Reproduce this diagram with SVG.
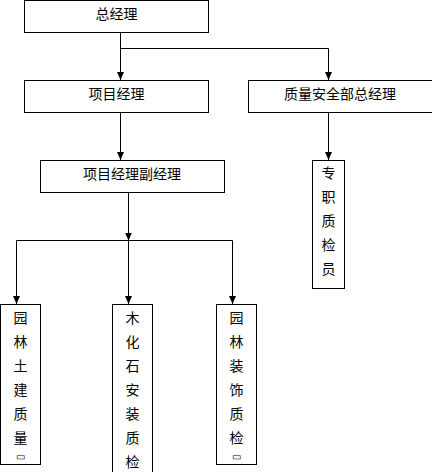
<svg xmlns="http://www.w3.org/2000/svg" width="432" height="472" viewBox="0 0 432 472">
<style>
.box{fill:#fff;stroke:#000;stroke-width:1}
.t{font-family:"Noto Sans CJK SC","Liberation Sans",sans-serif;font-size:14px;fill:#000;text-anchor:middle}
.s{font-size:10px}
.c{fill:none;stroke:#000;stroke-width:1}
</style>
<defs>
<marker id="ah" viewBox="0 -4 8 8" refX="8" refY="0" markerWidth="8" markerHeight="8" markerUnits="userSpaceOnUse" orient="auto">
<path d="M0,-3.5 L8,0 L0,3.5 Z" fill="#000"/>
</marker>
</defs>
<rect width="432" height="472" fill="#fff"/>
<g id="connectors">
<path class="c" d="M120.5,32 V80" marker-end="url(#ah)"/>
<path class="c" d="M120.5,48.5 H328.5 V80" marker-end="url(#ah)"/>
<path class="c" d="M120.5,112 V160" marker-end="url(#ah)"/>
<path class="c" d="M328.5,112 V160" marker-end="url(#ah)"/>
<path class="c" d="M128.5,192 V240.5" marker-end="url(#ah)"/>
<path class="c" d="M16.5,240.5 H232.5"/>
<path class="c" d="M16.5,240.5 V304" marker-end="url(#ah)"/>
<path class="c" d="M128.5,240.5 V304" marker-end="url(#ah)"/>
<path class="c" d="M232.5,240.5 V304" marker-end="url(#ah)"/>
</g>
<g id="n1"><rect class="box" x="24.5" y="0.5" width="184" height="32"/><text class="t" x="116.5" y="19">总经理</text></g>
<g id="n2"><rect class="box" x="24.5" y="80.5" width="184" height="32"/><text class="t" x="116.5" y="99">项目经理</text></g>
<g id="n3"><rect class="box" x="248.5" y="80.5" width="184" height="32"/><text class="t" x="340" y="99">质量安全部总经理</text></g>
<g id="n4"><rect class="box" x="40.5" y="160.5" width="184" height="32"/><text class="t" x="132" y="179">项目经理副经理</text></g>
<g id="n5"><rect class="box" x="312.5" y="160.5" width="32" height="128"/>
<text class="t" x="328.5" y="178">专</text><text class="t" x="328.5" y="202">职</text><text class="t" x="328.5" y="226">质</text><text class="t" x="328.5" y="250">检</text><text class="t" x="328.5" y="274">员</text></g>
<g id="n6"><rect class="box" x="0.5" y="304.5" width="40" height="160"/>
<text class="t" x="20.5" y="323">园</text><text class="t" x="20.5" y="347">林</text><text class="t" x="20.5" y="371">土</text><text class="t" x="20.5" y="395">建</text><text class="t" x="20.5" y="419">质</text><text class="t" x="20.5" y="443">量</text><text class="t s" x="20.5" y="460">▭</text></g>
<g id="n7"><rect class="box" x="112.5" y="304.5" width="40" height="180"/>
<text class="t" x="132.5" y="323">木</text><text class="t" x="132.5" y="347">化</text><text class="t" x="132.5" y="371">石</text><text class="t" x="132.5" y="395">安</text><text class="t" x="132.5" y="419">装</text><text class="t" x="132.5" y="443">质</text><text class="t" x="132.5" y="467">检</text></g>
<g id="n8"><rect class="box" x="216.5" y="304.5" width="40" height="160"/>
<text class="t" x="236.5" y="323">园</text><text class="t" x="236.5" y="347">林</text><text class="t" x="236.5" y="371">装</text><text class="t" x="236.5" y="395">饰</text><text class="t" x="236.5" y="419">质</text><text class="t" x="236.5" y="443">检</text><text class="t s" x="236.5" y="460">▭</text></g>
</svg>
